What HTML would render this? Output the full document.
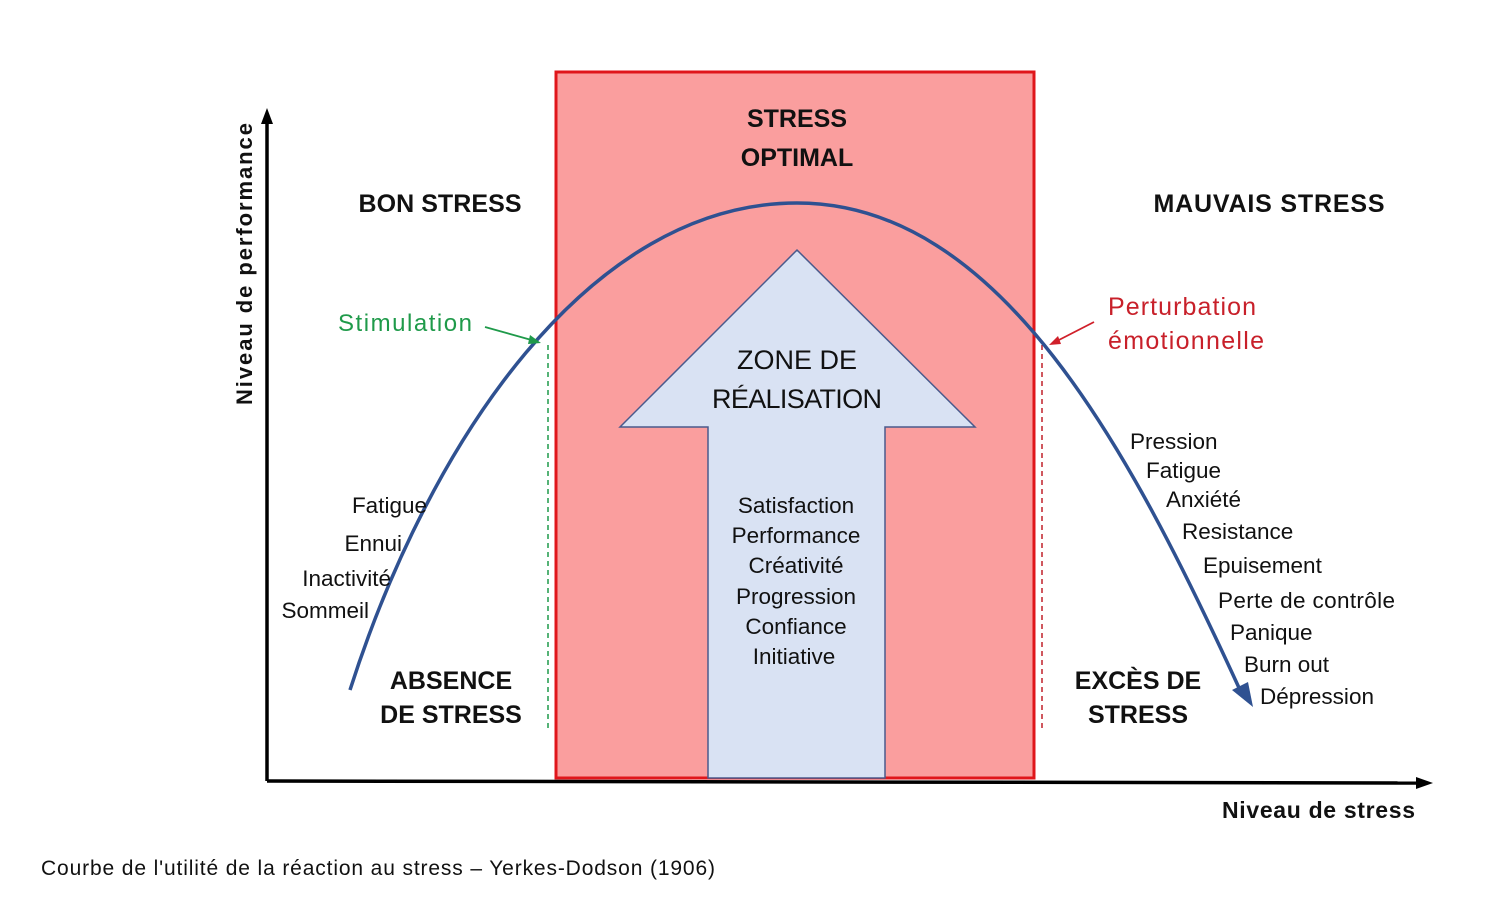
<!DOCTYPE html>
<html><head><meta charset="utf-8"><style>
html,body{margin:0;padding:0;background:#fff;}
svg{display:block;}
text{font-family:"Liberation Sans",sans-serif;}
.b{font-weight:bold;font-size:25px;fill:#111;}
.n{font-size:22.5px;fill:#111;}
</style></head><body>
<svg width="1500" height="902" viewBox="0 0 1500 902" xmlns="http://www.w3.org/2000/svg">
<rect x="556" y="72" width="478" height="706" fill="#fa9e9e" stroke="#e0161b" stroke-width="3"/>
<polygon points="797,250 975,427 885,427 885,778 708,778 708,427 620,427" fill="#d9e2f3" stroke="#4a5a8c" stroke-width="1.5"/>
<line x1="267" y1="781" x2="267" y2="118" stroke="#000" stroke-width="3.5"/>
<polygon points="267,108 261,124 273,124" fill="#000"/>
<line x1="267" y1="781" x2="1420" y2="783" stroke="#000" stroke-width="3.5"/>
<polygon points="1433,783 1416,777 1416,789" fill="#000"/>
<line x1="548" y1="345" x2="548" y2="732" stroke="#1f9a4a" stroke-width="1.5" stroke-dasharray="5,4"/>
<line x1="1042" y1="345" x2="1042" y2="732" stroke="#c0202a" stroke-width="1.5" stroke-dasharray="5,4"/>
<path d="M350,690 C430,440 590,203 797,203 C1000,203 1130,450 1240,690" fill="none" stroke="#2f5191" stroke-width="3.5"/>
<polygon points="1253,707 1232,690 1248,682" fill="#2f5191"/>
<line x1="485" y1="327" x2="535" y2="341" stroke="#1f9a4a" stroke-width="1.8"/>
<polygon points="541,343 530,335 528,344" fill="#1f9a4a"/>
<line x1="1094" y1="322" x2="1055" y2="342" stroke="#d0202a" stroke-width="1.8"/>
<polygon points="1049,345 1058,336 1061,344" fill="#d0202a"/>
<text class="b" x="797" y="127" text-anchor="middle">STRESS</text>
<text class="b" x="797" y="166" text-anchor="middle">OPTIMAL</text>
<text class="b" x="440" y="212" text-anchor="middle" textLength="163">BON STRESS</text>
<text class="b" x="1269" y="212" text-anchor="middle" textLength="231">MAUVAIS STRESS</text>
<text class="b" x="451" y="689" text-anchor="middle">ABSENCE</text>
<text class="b" x="451" y="723" text-anchor="middle">DE STRESS</text>
<text class="b" x="1138" y="689" text-anchor="middle">EXCÈS DE</text>
<text class="b" x="1138" y="723" text-anchor="middle">STRESS</text>
<text x="797" y="369" text-anchor="middle" font-size="27" fill="#111">ZONE DE</text>
<text x="797" y="408" text-anchor="middle" font-size="27" fill="#111" textLength="170">RÉALISATION</text>
<text x="338" y="331" font-size="24" fill="#1f9a4a" textLength="134">Stimulation</text>
<text x="1108" y="315" font-size="25" fill="#c8202a" textLength="148">Perturbation</text>
<text x="1108" y="349" font-size="25" fill="#c8202a" textLength="156">émotionnelle</text>
<g class="n" text-anchor="middle">
<text x="796" y="513">Satisfaction</text>
<text x="796" y="543">Performance</text>
<text x="796" y="573">Créativité</text>
<text x="796" y="604">Progression</text>
<text x="796" y="634">Confiance</text>
<text x="794" y="664">Initiative</text>
</g>
<g class="n" text-anchor="end">
<text x="427" y="513">Fatigue</text>
<text x="402" y="551">Ennui</text>
<text x="391" y="586">Inactivité</text>
<text x="369" y="618">Sommeil</text>
</g>
<g class="n">
<text x="1130" y="449">Pression</text>
<text x="1146" y="478">Fatigue</text>
<text x="1166" y="507">Anxiété</text>
<text x="1182" y="539">Resistance</text>
<text x="1203" y="573">Epuisement</text>
<text x="1218" y="608" textLength="177">Perte de contrôle</text>
<text x="1230" y="640">Panique</text>
<text x="1244" y="672">Burn out</text>
<text x="1260" y="704" textLength="114">Dépression</text>
</g>
<text transform="translate(252,405) rotate(-90)" font-size="22" font-weight="bold" fill="#111" textLength="282">Niveau de performance</text>
<text x="1222" y="818" font-size="23" font-weight="bold" fill="#111" textLength="193">Niveau de stress</text>
<text x="41" y="875" font-size="21" fill="#111" textLength="674">Courbe de l'utilité de la réaction au stress – Yerkes-Dodson (1906)</text>
</svg>
</body></html>
